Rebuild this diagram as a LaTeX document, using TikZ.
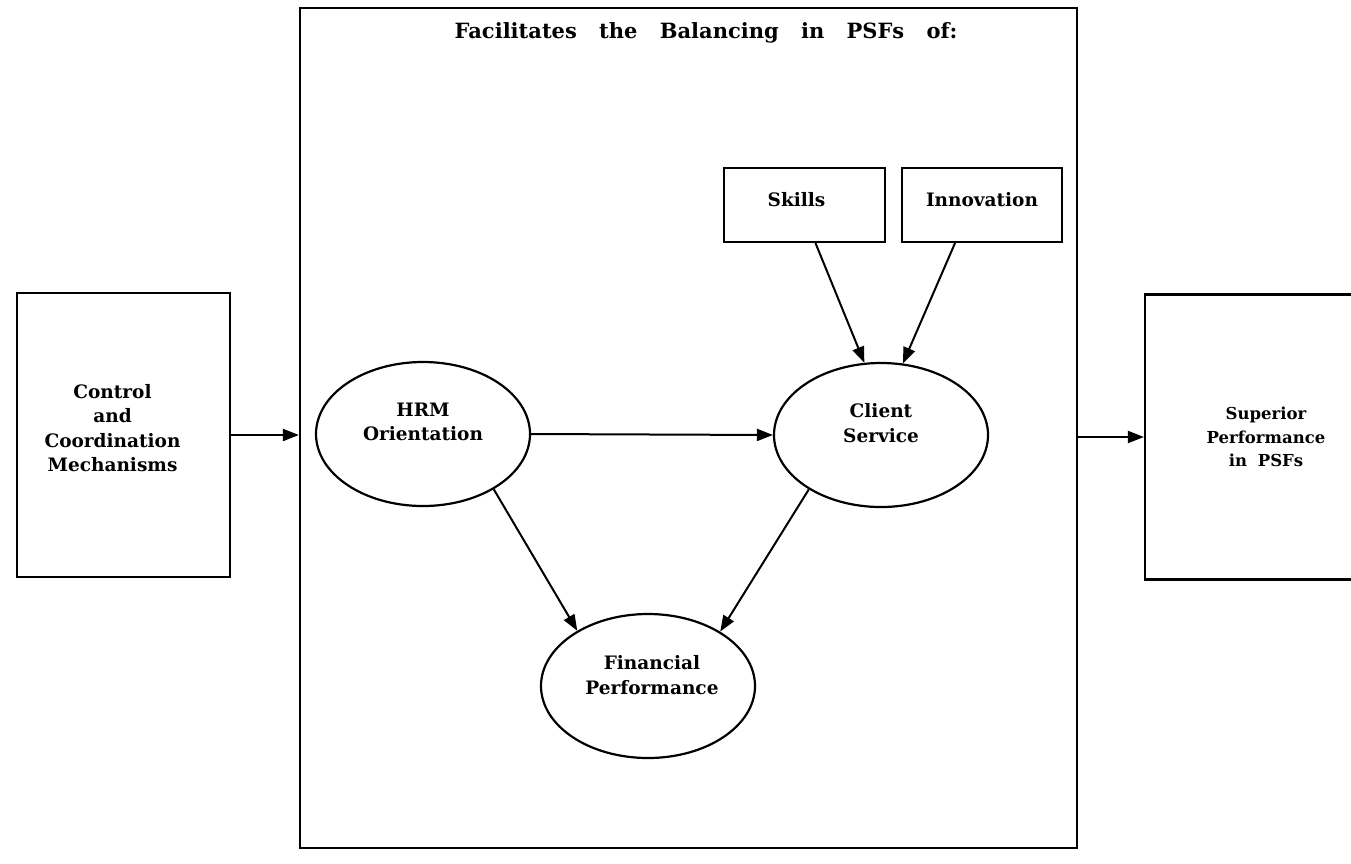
\documentclass[tikz,border=0pt]{standalone}
\usepackage{fontspec}
\setmainfont{DejaVu Serif}
\usetikzlibrary{arrows.meta,shapes.geometric,calc}

\begin{document}
\begin{tikzpicture}[x=1pt,y=-1pt,line width=2.2pt,
  lbl/.style={font=\bfseries\fontsize{18.5}{24.5}\selectfont,align=center},
  boxnode/.style={draw,rectangle,inner sep=0pt},
  oval/.style={draw,ellipse,minimum width=214pt,minimum height=144pt,inner sep=0pt},
  arr/.style={-{Triangle[length=16pt,width=12pt]},line width=2pt}]
  \useasboundingbox (0,0) rectangle (1351,863);
  \clip (0,0) rectangle (1351,863);

  % outer frame holding the balanced elements
  \node[boxnode,minimum width=777pt,minimum height=840pt] (frame) at (688.5,428) {};
  \node[font=\bfseries\fontsize{21}{24}\selectfont] (title) at (706,33)
    {Facilitates\hspace{15pt} the\hspace{15pt} Balancing\hspace{15pt} in\hspace{15pt} PSFs\hspace{15pt} of:};

  % input and output boxes
  \node[boxnode,minimum width=213pt,minimum height=284pt,
    label={[lbl,xshift=-11pt,yshift=7pt]center:Control\\and\\Coordination\\Mechanisms}]
    (ccm) at (123.5,435) {};
  \node[boxnode,minimum width=240pt,minimum height=285pt,
    label={[lbl,font=\bfseries\fontsize{16.5}{23.5}\selectfont,xshift=1pt]center:Superior\\Performance\\in\hspace{5pt} PSFs}]
    (perf) at (1265,437) {};

  % top boxes
  \node[boxnode,minimum width=161pt,minimum height=74pt,
    label={[lbl,xshift=-8pt,yshift=5pt]center:Skills}] (skills) at (804.5,205) {};
  \node[boxnode,minimum width=160pt,minimum height=74pt,
    label={[lbl,yshift=5pt]center:Innovation}] (innov) at (982,205) {};

  % ellipses
  \node[oval,label={[lbl,yshift=12pt]center:HRM\\Orientation}] (hrm) at (423,434) {};
  \node[oval,label={[lbl,yshift=12pt]center:Client\\Service}] (client) at (881,435) {};
  \node[oval,label={[lbl,xshift=4pt,yshift=11pt]center:Financial\\Performance}] (fin) at (648,686) {};

  % connectors
  \draw[arr] (ccm.east) -- (ccm.east -| frame.west);
  \draw[arr] (frame.east |- perf.west) -- (perf.west);
  \draw[arr] (hrm.east) -- (client.west);
  \draw[arr] ($(skills.south)+(11,0)$) -- (client.103);
  \draw[arr] ($(innov.south)+(-27,0)$) -- (client.73);
  \draw[arr] (hrm.-38) -- (fin.142);
  \draw[arr] (client.217) -- (fin.37);
\end{tikzpicture}
\end{document}
